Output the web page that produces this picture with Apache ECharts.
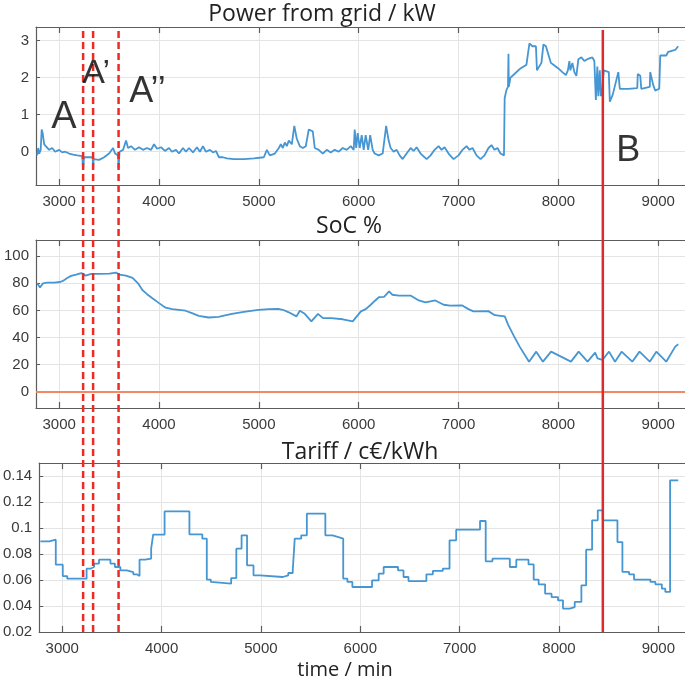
<!DOCTYPE html>
<html><head><meta charset="utf-8">
<script src="https://cdn.jsdelivr.net/npm/echarts@6/dist/echarts.min.js"></script>
<style>html,body{margin:0;padding:0;background:#fff}#c{width:685px;height:687px}</style>
</head><body><div id="c"></div>
<script>
// ---------- DATA ----------
const timeTicks = [3000, 4000, 5000, 6000, 7000, 8000, 9000];
const powerTicks = [0, 1, 2, 3];
const socTicks = [0, 20, 40, 60, 80, 100];
const tariffTicks = [0.02, 0.04, 0.06, 0.08, 0.1, 0.12, 0.14];

const powerData = [
  [2780,-0.1],[2790,0.1],[2800,-0.05],[2815,0.05],[2825,0.6],[2835,0.5],[2850,0.2],[2870,0.15],[2900,0.05],
  [2930,0.1],[2960,0.0],[3000,0.05],[3030,-0.02],[3060,0.0],[3100,-0.05],[3140,-0.08],[3180,-0.1],[3230,-0.12],
  [3240,-0.45],[3250,-0.15],[3300,-0.15],[3335,-0.15],[3340,-0.45],[3345,-0.2],[3400,-0.22],[3450,-0.15],
  [3500,-0.05],[3540,0.1],[3560,-0.05],[3590,-0.1],[3595,-0.45],[3605,0.0],[3640,0.05],[3670,0.3],[3690,0.1],
  [3720,0.15],[3760,0.05],[3800,0.12],[3840,0.05],[3880,0.1],[3920,0.05],[3950,0.2],[3980,0.08],[4020,0.12],
  [4060,0.02],[4100,0.1],[4130,0.0],[4170,0.05],[4200,-0.05],[4240,0.1],[4270,0.0],[4300,0.1],[4340,-0.02],
  [4380,0.12],[4410,0.0],[4440,0.15],[4470,0.0],[4510,0.05],[4540,-0.02],[4570,0.02],[4600,-0.15],[4640,-0.15],
  [4680,-0.18],[4750,-0.2],[4850,-0.2],[4950,-0.18],[5050,-0.15],[5080,0.05],[5110,-0.1],[5160,-0.05],
  [5200,0.1],[5220,0.2],[5240,0.1],[5260,0.25],[5280,0.15],[5300,0.3],[5330,0.2],[5355,0.7],[5380,0.35],
  [5410,0.15],[5440,0.1],[5470,0.15],[5500,0.6],[5540,0.55],[5560,0.1],[5600,0.05],[5640,-0.05],[5680,0.05],
  [5720,-0.02],[5760,0.05],[5800,0.0],[5840,0.1],[5880,0.05],[5920,0.15],[5950,0.05],[5960,0.6],[5975,0.1],
  [5990,0.5],[6010,0.1],[6030,0.45],[6050,0.05],[6070,0.45],[6095,0.05],[6115,0.45],[6140,0.05],[6160,-0.05],
  [6200,-0.1],[6240,-0.05],[6275,0.7],[6300,0.3],[6320,0.1],[6350,0.0],[6380,0.05],[6410,-0.1],[6440,-0.2],
  [6480,-0.05],[6520,0.1],[6550,0.02],[6580,0.12],[6620,-0.05],[6680,-0.2],[6720,-0.1],[6760,0.05],[6800,0.15],
  [6830,0.05],[6860,0.12],[6900,-0.05],[6950,-0.2],[7000,-0.1],[7040,0.05],[7080,0.15],[7110,0.05],[7140,0.1],
  [7180,-0.1],[7220,-0.2],[7260,-0.1],[7300,0.1],[7330,0.18],[7360,0.05],[7390,0.1],[7420,-0.05],[7455,-0.1],
  [7462,1.45],[7480,1.67],[7495,1.75],[7500,2.65],[7503,1.75],[7520,2.0],[7560,2.1],[7620,2.25],[7680,2.35],
  [7700,2.4],[7710,2.93],[7740,2.85],[7775,2.85],[7785,2.2],[7830,2.4],[7850,2.9],[7875,2.85],[7925,2.4],
  [7950,2.35],[8000,2.25],[8040,2.15],[8075,2.07],[8095,2.2],[8110,2.45],[8120,2.2],[8140,2.4],[8160,2.15],
  [8180,2.05],[8200,2.5],[8230,2.55],[8260,2.45],[8290,2.5],[8340,2.55],[8360,2.45],[8375,1.4],[8390,2.3],
  [8400,1.5],[8415,2.2],[8425,1.5],[8440,1.7],[8455,2.2],[8505,2.15],[8515,1.35],[8545,1.55],[8600,2.15],
  [8615,1.7],[8700,1.7],[8790,1.72],[8795,2.1],[8820,2.05],[8830,1.7],[8915,1.75],[8920,2.15],[8940,2.1],
  [8950,1.8],[8970,1.65],[9010,1.7],[9020,2.6],[9080,2.6],[9100,2.7],[9170,2.75],[9200,2.85]
];

const socData = [
  [2780,80],[2808,77],[2838,80],[2880,80.5],[2950,80.5],[3010,81],[3043,82],[3080,84],[3120,85.5],[3170,86.5],
  [3222,87.6],[3265,85.7],[3321,87],[3400,87],[3503,87.2],[3570,88],[3603,86.4],[3669,85.7],[3735,84],
  [3790,80],[3835,75],[3880,72],[3934,69],[4000,65.4],[4066,62],[4133,61],[4200,60.5],[4265,59.8],[4330,58],
  [4398,56],[4497,54.8],[4597,55.3],[4650,56.2],[4730,57.5],[4850,59],[4995,60.5],[5100,61],[5194,61.2],
  [5240,60.5],[5294,58.8],[5377,55.6],[5410,59.8],[5460,57.5],[5526,51.9],[5592,57.5],[5642,54.3],[5725,54.3],
  [5841,53.5],[5940,51.9],[6022,59.3],[6070,61],[6121,64.2],[6160,67],[6205,69.9],[6254,70],[6304,74],
  [6337,71.6],[6403,70.9],[6519,71],[6602,67.4],[6669,65.9],[6767,67.4],[6851,64.2],[6917,63.5],[7033,63.8],
  [7099,61],[7149,59.3],[7298,59.5],[7364,56.5],[7463,55.6],[7497,49.4],[7555,41],[7612,33.3],[7706,22.2],
  [7778,29.6],[7845,22.2],[7927,29.6],[8126,22.2],[8203,29.6],[8292,22.2],[8368,28.9],[8392,24.7],[8442,23.5],
  [8468,26],[8507,29.6],[8567,22.2],[8633,29.6],[8740,22.2],[8812,29.6],[8915,22.2],[8981,29.6],[9080,22.2],
  [9170,33.3],[9200,35]
];
const socMinimum = 0;

// tariff: [time at which the value starts, value] (step)
const tariffData = [
  [2780,0.0897],[2870,0.091],[2935,0.0718],[3005,0.063],[3050,0.061],[3245,0.0687],[3285,0.07],[3320,0.0726],
  [3370,0.0756],[3485,0.0726],[3530,0.07],[3585,0.0674],[3650,0.066],[3715,0.0644],[3750,0.063],[3778,0.0756],
  [3835,0.0764],[3895,0.0841],[3915,0.0949],[4030,0.1128],[4280,0.0951],[4410,0.0918],[4455,0.0603],
  [4495,0.0585],[4512,0.0572],[4700,0.0615],[4752,0.0841],[4805,0.0944],[4860,0.0713],[4925,0.0636],
  [4990,0.0623],[5220,0.0636],[5275,0.0654],[5320,0.0674],[5340,0.0918],[5405,0.0944],[5462,0.111],
  [5648,0.0944],[5720,0.093],[5780,0.0918],[5828,0.061],[5870,0.0585],[5920,0.0546],[6118,0.0597],
  [6185,0.0649],[6235,0.07],[6380,0.0674],[6435,0.0623],[6485,0.0592],[6665,0.0644],[6730,0.067],
  [6830,0.0687],[6898,0.0905],[6965,0.0987],[7205,0.1054],[7262,0.0744],[7330,0.0764],[7505,0.07],
  [7570,0.0756],[7693,0.072],[7745,0.0603],[7795,0.0567],[7860,0.0495],[7925,0.0469],[7990,0.0444],
  [8040,0.038],[8108,0.0392],[8158,0.0431],[8225,0.0559],[8273,0.0833],[8333,0.1059],[8390,0.1136],
  [8440,0.1059],[8588,0.0892],[8638,0.0662],[8705,0.0644],[8755,0.0603],[8920,0.0585],[8970,0.0567],
  [9035,0.0533],[9070,0.0508],[9118,0.1367],[9200,0.1367]
];

const eventDashedTimes = [3240, 3340, 3595];   // A, A', A''
const eventSolidTimes = [8445];                // B
const annotationText = ['A', 'A\u2019', 'A\u2019\u2019', 'B'];
const annotationTime = [3047, 3370, 3885, 8700];
const annotationPower = [0.92, 2.12, 1.6, 0.02];
const annotationSize = [38, 34, 36, 36];

const panelTitles = ['Power from grid / kW', 'SoC %', 'Tariff / c\u20ac/kWh'];
const xAxisTitle = 'time / min';

// ---------- CHART ----------
const X_MIN = 2768, X_MAX = 9268;
const AX = '#5c5c5c', GC = '#e4e4e4', LC = '#3a3a3a', BLUE = '#4596d2';
const FONT = '"Liberation Sans", Arial, sans-serif';
const TFONT = '"Open Sans", sans-serif';
const plain = v => String(v);

const grids = [
  {left: 36, right: -5, top: 27, height: 158},
  {left: 36, right: -5, top: 240, height: 168},
  {left: 36, right: -5, top: 463, height: 169},
  {left: 36, right: -5, top: 27, bottom: 55}
];

function xAx(gi, pos, labels) {
  return {
    type: 'value', gridIndex: gi, position: pos, min: X_MIN, max: X_MAX,
    axisLine: {show: true, onZero: false, lineStyle: {color: AX, width: 1.2}},
    axisTick: {show: true, inside: true, length: 6, customValues: timeTicks, lineStyle: {color: AX, width: 1.2}},
    axisLabel: {show: labels, customValues: timeTicks, formatter: plain, margin: 9, fontSize: 15, color: LC, fontFamily: FONT},
    splitLine: {show: labels, lineStyle: {color: GC, width: 1}}
  };
}
function yAx(gi, min, max, ticks) {
  return {
    type: 'value', gridIndex: gi, min: min, max: max,
    axisLine: {show: true, onZero: false, lineStyle: {color: AX, width: 1.2}},
    axisTick: {show: true, inside: true, length: 4, customValues: ticks, lineStyle: {color: AX}},
    axisLabel: {customValues: ticks, formatter: plain, margin: 7, fontSize: 15, color: LC, fontFamily: FONT},
    splitLine: {show: true, lineStyle: {color: GC, width: 1}}
  };
}

const xAxes = [
  xAx(0, 'bottom', true), xAx(1, 'bottom', true), xAx(2, 'bottom', true),
  xAx(0, 'top', false), xAx(1, 'top', false), xAx(2, 'top', false),
  {type: 'value', gridIndex: 3, min: X_MIN, max: X_MAX, show: false}
];
const yAxes = [
  yAx(0, -0.9, 3.37, powerTicks),
  yAx(1, -12, 112, socTicks),
  yAx(2, 0.02, 0.15, tariffTicks),
  {type: 'value', gridIndex: 3, min: 0, max: 1, show: false}
];

const series = [
  {type: 'line', xAxisIndex: 0, yAxisIndex: 0, data: powerData, showSymbol: false, silent: true,
   lineStyle: {color: BLUE, width: 1.8}},
  {type: 'line', xAxisIndex: 1, yAxisIndex: 1, data: socData, showSymbol: false, silent: true,
   lineStyle: {color: BLUE, width: 1.8},
   markLine: {symbol: 'none', silent: true, label: {show: false},
     lineStyle: {color: '#ef8a62', type: 'solid', width: 2},
     data: [{yAxis: socMinimum}]}},
  {type: 'line', xAxisIndex: 2, yAxisIndex: 2, data: tariffData, step: 'end', showSymbol: false, silent: true,
   lineStyle: {color: BLUE, width: 1.8}}
];
eventDashedTimes.forEach(t => series.push({
  type: 'line', xAxisIndex: 6, yAxisIndex: 3, data: [[t, 0], [t, 1]], showSymbol: false, silent: true, z: 5,
  lineStyle: {color: '#ee2a24', width: 2.5, type: [7, 4]}
}));
eventSolidTimes.forEach(t => series.push({
  type: 'line', xAxisIndex: 6, yAxisIndex: 3, data: [[t, 0], [t, 0.995]], showSymbol: false, silent: true, z: 5,
  lineStyle: {color: '#dd2a2a', width: 2.5}
}));
series.push({
  type: 'scatter', xAxisIndex: 0, yAxisIndex: 0, symbolSize: 0, silent: true, z: 10,
  data: annotationText.map((s, i) => ({
    name: s, value: [annotationTime[i], annotationPower[i]],
    label: {fontSize: annotationSize[i]}
  })),
  label: {show: true, position: 'inside', formatter: '{b}', color: '#000', fontFamily: FONT,
          textBorderWidth: 0}
});

const titleCenters = [[322, 14], [349, 226], [360, 452]];
const graphic = panelTitles.map((t, i) => ({
  type: 'text', x: titleCenters[i][0], y: titleCenters[i][1],
  style: {text: t, fill: '#222', font: '23px ' + TFONT, textAlign: 'center', textVerticalAlign: 'middle',
          align: 'center', verticalAlign: 'middle'}
}));
graphic.push({
  type: 'text', x: 345, y: 670,
  style: {text: xAxisTitle, fill: '#222', font: '20px ' + TFONT, textAlign: 'center', textVerticalAlign: 'middle',
          align: 'center', verticalAlign: 'middle'}
});

const chart = echarts.init(document.getElementById('c'));
chart.setOption({
  animation: false,
  backgroundColor: '#fff',
  grid: grids,
  xAxis: xAxes,
  yAxis: yAxes,
  series: series,
  graphic: graphic
});
</script>
</body></html>
